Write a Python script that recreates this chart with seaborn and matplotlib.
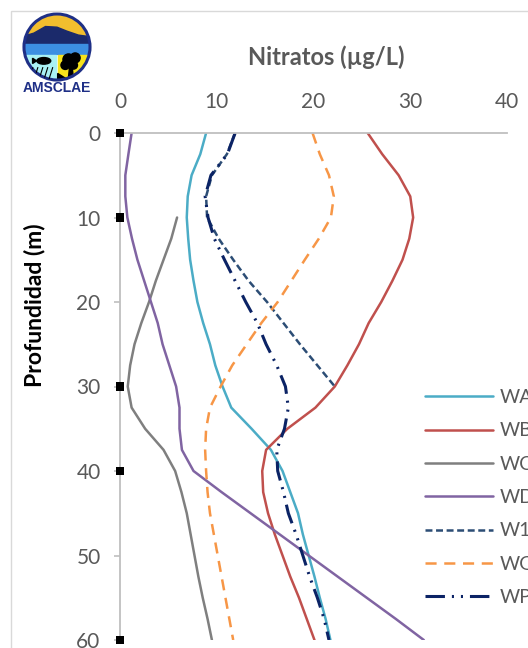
import matplotlib
matplotlib.use("Agg")
import matplotlib.pyplot as plt
from matplotlib.patches import Circle, Rectangle, Polygon, Ellipse
from matplotlib.lines import Line2D
import seaborn as sns

# ----------------------------
# Data (depth in m, nitrate in ug/L)
# ----------------------------
depths = [0, 2.5, 5, 7.5, 10, 12.5, 15, 17.5, 20, 22.5, 25, 27.5, 30,
          32.5, 35, 37.5, 40, 42.5, 45, 47.5, 50, 52.5, 55, 57.5, 60]
depths_wc = [10, 12.5, 15, 17.5, 20, 22.5, 25, 27.5, 30, 32.5, 35,
             37.5, 40, 42.5, 45, 47.5, 50, 52.5, 55, 57.5, 60]
depths_w1 = [0, 2.5, 5, 7.5, 10, 12.5, 15, 17.5, 20, 22.5, 25, 27.5, 30]

wa = [8.9, 8.3, 7.4, 7.0, 6.9, 7.05, 7.25, 7.6, 8.0, 8.6, 9.3, 9.85, 10.6,
      11.5, 13.6, 15.6, 16.8, 17.6, 18.4, 18.9, 19.5, 20.1, 20.65, 21.25, 21.75]
wb = [25.6, 27.1, 28.8, 30.0, 30.3, 29.9, 29.2, 28.15, 27.0, 25.7, 24.7, 23.5, 22.2,
      20.2, 17.3, 15.1, 14.7, 14.8, 15.3, 16.0, 16.8, 17.6, 18.5, 19.3, 20.1]
wc = [5.9, 5.3, 4.5, 3.7, 3.0, 2.2, 1.5, 1.05, 0.8, 1.2, 2.6,
      4.5, 5.7, 6.35, 6.9, 7.3, 7.7, 8.1, 8.55, 9.05, 9.5]
wd = [1.2, 0.87, 0.55, 0.55, 0.76, 1.24, 1.8, 2.5, 3.2, 3.9, 4.4, 5.1, 5.8,
      6.15, 6.15, 6.4, 7.6, 10.5, 13.5, 16.5, 19.5, 22.5, 25.5, 28.5, 31.4]
w1 = [11.9, 11.05, 9.5, 8.9, 9.0, 10.2, 11.7, 13.3, 15.2, 16.9, 18.6, 20.4, 22.2]
wg = [19.9, 20.65, 21.6, 22.1, 21.8, 20.55, 19.1, 17.7, 16.3, 14.6, 13.1, 11.6, 10.4,
      9.3, 8.9, 8.8, 8.9, 9.05, 9.3, 9.7, 10.1, 10.5, 10.9, 11.3, 11.7]
wp = [11.9, 11.1, 9.4, 8.8, 9.1, 9.75, 10.8, 11.9, 13.0, 14.2, 15.1, 16.2, 17.1,
      17.4, 17.0, 16.2, 16.3, 16.9, 17.4, 18.2, 18.9, 19.6, 20.4, 21.1, 21.6]

sample_depths = [0, 10, 30, 40, 60]

labels = ["WA", "WB", "WC", "WD", "W1", "WG", "WP"]
values = [wa, wb, wc, wd, w1, wg, wp]
levels = [depths, depths, depths_wc, depths, depths_w1, depths, depths]
colors = ["#4BACC6", "#C0504D", "#7F7F7F", "#8064A2", "#2C4D75", "#F79646", "#0B2365"]
widths = [1.8, 1.8, 1.8, 1.8, 1.8, 1.8, 2.2]
dashes = [None, None, None, None, (5, 2.6), (8, 5.5), (14, 5, 1.5, 5, 1.5, 5)]

W, H = 528, 648
sns.set_theme(style="white")
plt.rcParams["font.family"] = ["Lato", "DejaVu Sans"]
plt.rcParams["lines.scale_dashes"] = False

fig = plt.figure(figsize=(W / 100, H / 100), dpi=100)

# chart frame
fig.patches.append(Rectangle((11 / W, -0.5), 2, 1.5 - 11 / H, transform=fig.transFigure,
                             fill=False, edgecolor="#D9D9D9", lw=1.0))

ax = fig.add_axes([120 / W, 8 / H, 387 / W, 507 / H])

handles = []
for lab, vals, dep, col, lw, ds in zip(labels, values, levels, colors, widths, dashes):
    sns.lineplot(x=vals, y=dep, sort=False, estimator=None, color=col, lw=lw, ax=ax)
    line = ax.get_lines()[-1]
    if ds is not None:
        line.set_dashes(ds)
    handles.append(Line2D([], [], color=col, lw=lw, dashes=ds if ds else (None, None)))

sns.scatterplot(x=[0] * len(sample_depths), y=sample_depths, marker="s", color="black",
                s=40, edgecolor="none", clip_on=False, zorder=6, legend=False, ax=ax)

ax.set_xlim(0, 40)
ax.set_ylim(60, 0)
ax.xaxis.tick_top()
ax.set_xticks([0, 10, 20, 30, 40])
ax.set_yticks([0, 10, 20, 30, 40, 50, 60])
ax.set_xlabel("")
ax.set_ylabel("")
for s in ["right", "bottom"]:
    ax.spines[s].set_visible(False)
for s in ["top", "left"]:
    ax.spines[s].set_color("#BFBFBF")
    ax.spines[s].set_linewidth(1.3)
ax.tick_params(axis="x", length=0, pad=15, labelsize=15, labelcolor="#595959")
ax.tick_params(axis="y", direction="out", length=4, width=1.2, color="#BFBFBF",
               pad=10, labelsize=15, labelcolor="#595959", left=True)

fig.text(326 / W, 1 - 57 / H, "Nitratos (µg/L)", ha="center", va="center",
         fontsize=17, fontweight="bold", color="#595959")
fig.text(35 / W, 1 - 305 / H, "Profundidad (m)", ha="center", va="center",
         rotation=90, fontsize=16.5, fontweight="bold", color="black")

leg = fig.legend(handles, labels, loc="upper left", bbox_to_anchor=(425 / W, 1 - 389 / H),
                 frameon=False, borderpad=0, borderaxespad=0, handlelength=3.5,
                 handletextpad=0.35, labelspacing=0.84, fontsize=14)
for t in leg.get_texts():
    t.set_color("#595959")

# ----------------------------
# AMSCLAE logo
# ----------------------------
lg = fig.add_axes([22 / W, 1 - 82 / H, 70 / W, 70 / H])
lg.set_xlim(-1.06, 1.06)
lg.set_ylim(-1.06, 1.06)
lg.set_aspect("equal")
lg.axis("off")
clip = Circle((0, 0), 1, transform=lg.transData)
parts = [
    Rectangle((-1.1, 0.1), 2.2, 1.1, color="#F2BE2E"),
    Polygon([(-1.1, 0.1), (-1.1, 0.3), (-0.7, 0.42), (-0.35, 0.62), (0.0, 0.6),
             (0.3, 0.48), (0.65, 0.36), (1.1, 0.3), (1.1, 0.1)], color="#1B2A6B"),
    Rectangle((-1.1, -0.22), 2.2, 0.32, color="#3C8FE2"),
    Rectangle((-1.1, -1.1), 1.08, 0.86, color="#A9F1F4"),
    Rectangle((0.02, -1.1), 1.1, 0.86, color="#F6E21C"),
    Ellipse((-0.4, -0.42), 0.42, 0.2, color="black"),
    Polygon([(-0.62, -0.42), (-0.74, -0.34), (-0.74, -0.5)], color="black"),
    Circle((0.35, -0.38), 0.17, color="black"),
    Circle((0.55, -0.33), 0.15, color="black"),
    Circle((0.25, -0.55), 0.13, color="black"),
    Circle((0.5, -0.55), 0.12, color="black"),
    Polygon([(0.38, -0.6), (0.46, -0.6), (0.5, -1.0), (0.34, -1.0)], color="black"),
    Polygon([(0.02, -1.1), (0.02, -0.8), (0.5, -1.1)], color="black"),
]
for p in parts:
    lg.add_patch(p)
    p.set_clip_path(clip)
for gx in [-0.85, -0.7, -0.55, -0.4, -0.25]:
    gl = lg.plot([gx, gx + 0.12], [-1.0, -0.62], color="black", lw=0.8)[0]
    gl.set_clip_path(clip)
lg.add_patch(Circle((0, 0), 1, fill=False, edgecolor="#1E2F86", lw=2.2))
fig.text(57 / W, 1 - 88 / H, "AMSCLAE", ha="center", va="center", fontsize=10,
         fontweight="bold", color="#1E2F86", family=["Liberation Sans", "DejaVu Sans"])

plt.savefig("out.png", dpi=100)
plt.close()
